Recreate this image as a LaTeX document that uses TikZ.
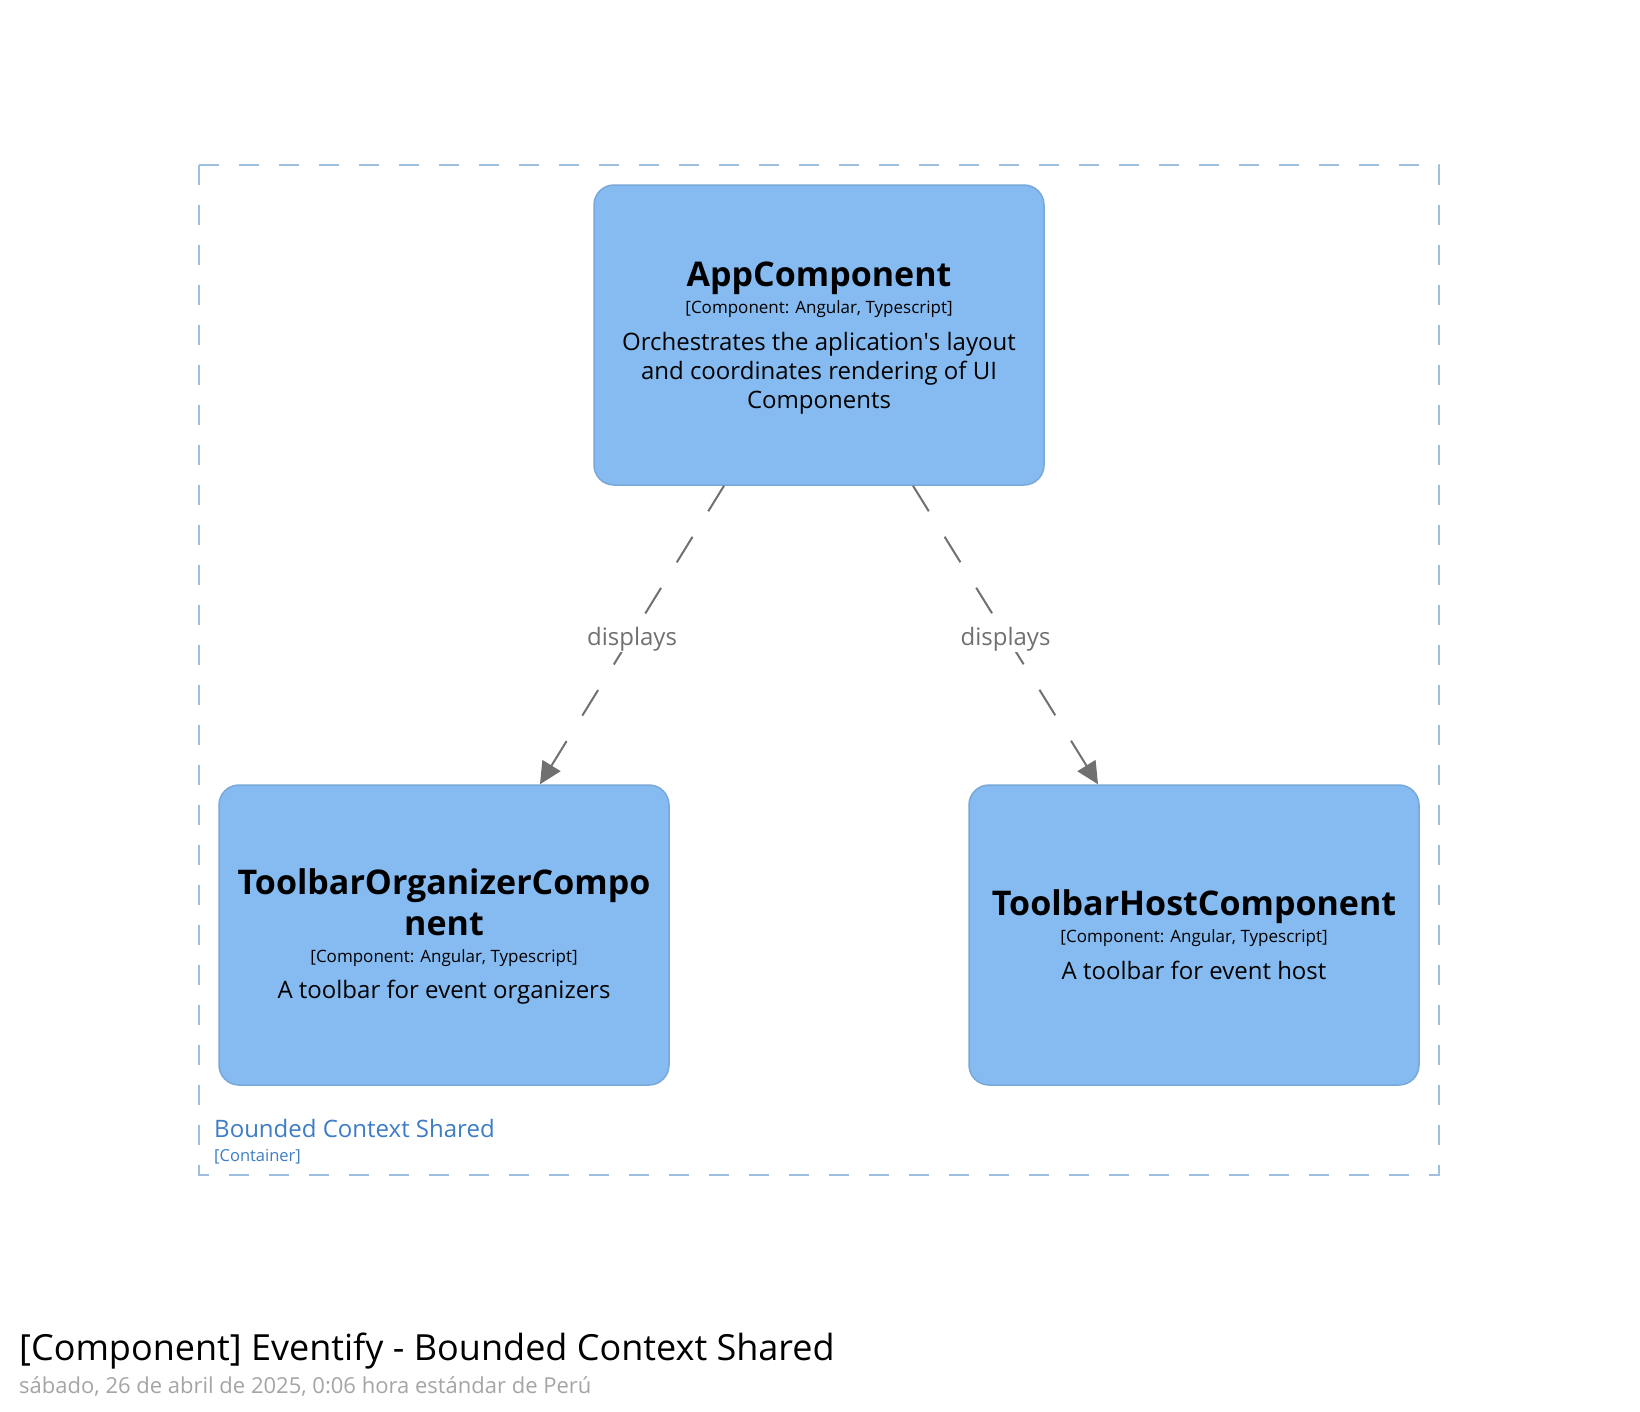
\documentclass[tikz,border=0pt]{standalone}
\usepackage{fontspec}
\setmainfont{Open Sans}
\usetikzlibrary{arrows.meta,calc}
\definecolor{boxfill}{HTML}{85BBF0}
\definecolor{boxline}{HTML}{78A8D8}
\definecolor{bndline}{HTML}{9EBFE0}
\definecolor{bndtext}{HTML}{3D7DC4}
\definecolor{relgray}{HTML}{707070}
\definecolor{subgray}{HTML}{A5A5A5}
\tikzset{
  comp/.style={draw=boxline, fill=boxfill, line width=1.5pt, rounded corners=20pt,
    minimum width=450pt, minimum height=300pt, inner sep=0pt},
  nm/.style={font=\fontsize{34}{41}\selectfont\bfseries, align=center, inner sep=0pt},
  meta/.style={font=\fontsize{17}{20}\selectfont, align=center, inner sep=0pt},
  desc/.style={font=\fontsize{24}{28.8}\selectfont, align=center, inner sep=0pt},
  rel/.style={draw=relgray, line width=2pt, dash pattern=on 30pt off 30pt,
    -{Triangle[length=22pt,width=21pt]}},
  rellabel/.style={font=\fontsize{24}{28.8}\selectfont, text=relgray, fill=white, inner sep=1pt, yshift=-4pt}
}
\begin{document}
\begin{tikzpicture}[x=1pt,y=-1pt]
\useasboundingbox[fill=white] (0,0) rectangle (1640,1411);
% boundary
\draw[bndline, line width=2pt, dash pattern=on 20pt off 20pt] (199,165) rectangle (1439,1175);
\node[anchor=west, text=bndtext, font=\fontsize{24}{28.8}\selectfont, inner sep=0pt] (bname) at (214,1128.5) {Bounded Context Shared};
\node[anchor=west, text=bndtext, font=\fontsize{16.5}{20}\selectfont, inner sep=0pt] (btype) at (214,1157) {[Container]};
% components
\node[comp] (app) at (819,335) {};
\node[comp] (org) at (444,935) {};
\node[comp] (host) at (1194,935) {};
% app text
\node[nm] (appn) at (819,278) {AppComponent};
\node[meta] (appm) at (819,309.5) {[Component: Angular, Typescript]};
\node[desc] (appd) at (819,373) {Orchestrates the aplication\textquotesingle s layout\\and coordinates rendering of UI\\Components};
% org text
\node[nm] (orgn) at (444,902) {ToolbarOrganizerCompo\\nent};
\node[meta] (orgm) at (444,958) {[Component: Angular, Typescript]};
\node[desc] (orgd) at (444,992.5) {A toolbar for event organizers};
% host text
\node[nm] (hostn) at (1194,906.5) {ToolbarHostComponent};
\node[meta] (hostm) at (1194,938) {[Component: Angular, Typescript]};
\node[desc] (hostd) at (1194,970) {A toolbar for event host};
% relations
\draw[rel] ([xshift=-95pt]app.south) -- node[rellabel] (l1) {displays} ([xshift=96pt]org.north);
\draw[rel] ([xshift=94pt]app.south) -- node[rellabel] (l2) {displays} ([xshift=-96pt]host.north);
% title
\node[anchor=west, font=\fontsize{36}{43}\selectfont, inner sep=0pt] (title) at (19,1351) {[Component] Eventify - Bounded Context Shared};
\node[anchor=west, text=subgray, font=\fontsize{22}{26}\selectfont, inner sep=0pt] (sub) at (19,1386) {sábado, 26 de abril de 2025, 0:06 hora estándar de Perú};
\end{tikzpicture}
\end{document}
